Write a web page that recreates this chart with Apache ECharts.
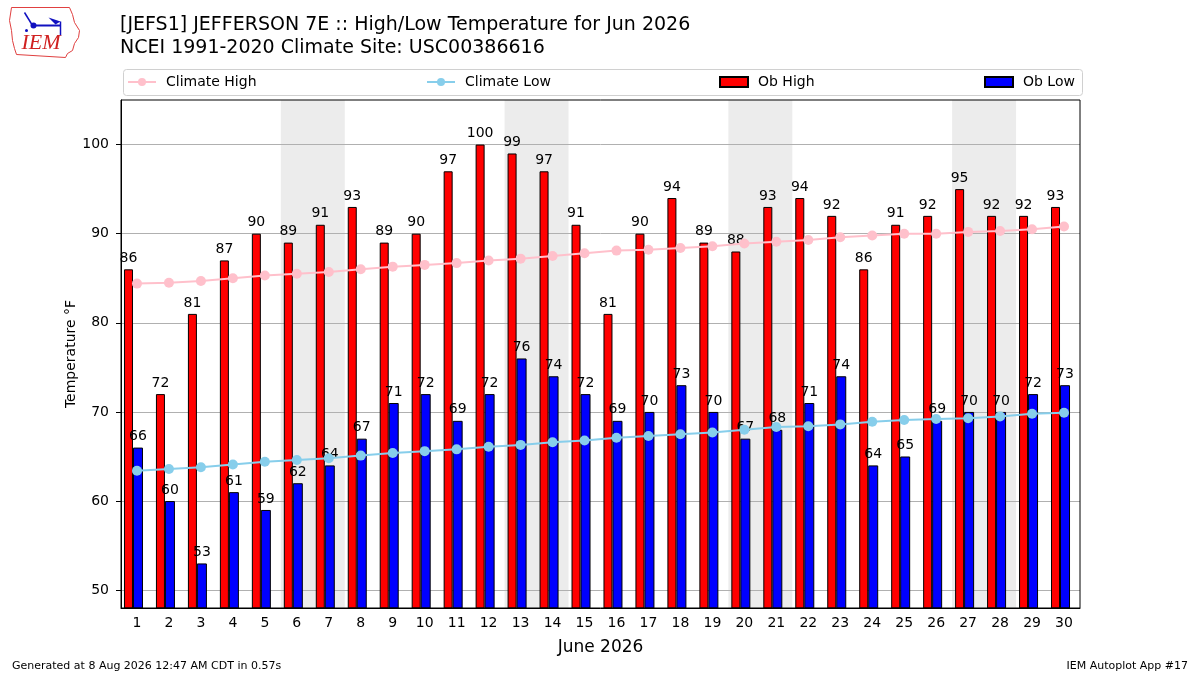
<!DOCTYPE html>
<html>
<head>
<meta charset="utf-8">
<script src="https://cdn.jsdelivr.net/npm/echarts@6/dist/echarts.min.js"></script>
<style>
  html, body { margin: 0; padding: 0; background: #fff; }
  #chart { width: 1200px; height: 675px; }
</style>
</head>
<body>
<div id="chart"></div>
<script>
// days of June 2026
const days = ['1','2','3','4','5','6','7','8','9','10','11','12','13','14','15',
  '16','17','18','19','20','21','22','23','24','25','26','27','28','29','30'];
const obHigh = [86,72,81,87,90,89,91,93,89,90,97,100,99,97,91,81,90,94,89,88,93,94,92,86,91,92,95,92,92,93];
const obLow = [66,60,53,61,59,62,64,67,71,72,69,72,76,74,72,69,70,73,70,67,68,71,74,64,65,69,70,70,72,73];
const climateHigh = [84.4,84.5,84.7,85.0,85.3,85.5,85.7,86.0,86.3,86.5,86.7,87.0,87.2,87.5,87.8,
  88.1,88.2,88.4,88.6,88.9,89.1,89.3,89.6,89.8,90.0,90.0,90.2,90.3,90.5,90.8];
const climateLow = [63.4,63.6,63.8,64.1,64.4,64.6,64.8,65.1,65.4,65.6,65.8,66.1,66.3,66.6,66.8,
  67.1,67.3,67.5,67.7,68.0,68.3,68.4,68.6,68.9,69.1,69.2,69.3,69.5,69.8,69.9];
const yTicks = [50,60,70,80,90,100];
// weekend pairs (Sat, Sun) as day numbers
const weekends = [[6,7],[13,14],[20,21],[27,28]];

const font = 'DejaVu Sans';
const chart = echarts.init(document.getElementById('chart'));

function legendAt(name, left, icon) {
  const lg = {
    data: [name], left: left, top: 70,
    itemWidth: 28, itemHeight: 10, itemGap: 0,
    textStyle: { fontFamily: font, fontSize: 14, color: '#000', padding: [0, 0, 0, 5] }
  };
  if (icon) lg.icon = icon;
  return lg;
}

const option = {
  animation: false,
  backgroundColor: '#fff',
  title: [
    { text: '[JEFS1] JEFFERSON 7E :: High/Low Temperature for Jun 2026',
      left: 115, top: 11, textStyle: { fontFamily: font, fontSize: 19, fontWeight: 'normal', color: '#000' } },
    { text: 'NCEI 1991-2020 Climate Site: USC00386616',
      left: 115, top: 34, textStyle: { fontFamily: font, fontSize: 19, fontWeight: 'normal', color: '#000' } },
    { text: 'Generated at 8 Aug 2026 12:47 AM CDT in 0.57s',
      left: 7, top: 656, textStyle: { fontFamily: font, fontSize: 11, fontWeight: 'normal', color: '#000' } },
    { text: 'IEM Autoplot App #17',
      right: 7, top: 656, textStyle: { fontFamily: font, fontSize: 11, fontWeight: 'normal', color: '#000' } }
  ],
  legend: [
    legendAt('Climate High', 122),
    legendAt('Climate Low', 421),
    legendAt('Ob High', 714, 'rect'),
    legendAt('Ob Low', 979, 'rect')
  ],
  graphic: [
    { type: 'rect', left: 121, top: 67, shape: { width: 959, height: 26, r: 3 },
      style: { fill: 'none', stroke: '#d0d0d0', lineWidth: 1 }, z: -1 },
    { type: 'group', left: 7, top: 5, children: [
      { type: 'polyline', shape: { points: [[3,2],[61,2],[64,9],[66,17],[71,25],[70,32],[66,38],[64,45],[59,48],[57,52],[8,49],[6,43],[4,35],[3,25],[1,15],[3,2]] },
        style: { stroke: '#e04040', fill: 'none', lineWidth: 1 } },
      { type: 'line', shape: { x1: 24, y1: 20, x2: 52, y2: 20 }, style: { stroke: '#1010c0', lineWidth: 2 } },
      { type: 'circle', shape: { cx: 25, cy: 20, r: 3 }, style: { fill: '#1010c0' } },
      { type: 'line', shape: { x1: 16, y1: 7, x2: 24, y2: 20 }, style: { stroke: '#1010c0', lineWidth: 1.5 } },
      { type: 'polygon', shape: { points: [[40,12],[52,16],[47,19]] }, style: { fill: '#1010c0' } },
      { type: 'line', shape: { x1: 52, y1: 16, x2: 52, y2: 30 }, style: { stroke: '#1010c0', lineWidth: 1.5 } },
      { type: 'circle', shape: { cx: 18, cy: 25, r: 1.5 }, style: { fill: '#1010c0' } },
      { type: 'text', left: 13, top: 27, style: { text: 'IEM', fill: '#d02020',
        font: 'italic 22px "Liberation Serif"' } }
    ]}
  ],
  grid: {
    left: 121, right: 120, top: 100, bottom: 67,
    show: true, borderColor: '#000', borderWidth: 1, backgroundColor: 'transparent', z: 5
  },
  xAxis: [
    {
      type: 'category', data: days, boundaryGap: true, z: 1.5,
      name: 'June 2026', nameLocation: 'middle', nameGap: 31,
      nameTextStyle: { fontFamily: font, fontSize: 17, color: '#000' },
      axisLine: { lineStyle: { color: '#000' } },
      axisTick: { alignWithLabel: true, length: 5, lineStyle: { color: '#000' } },
      axisLabel: { fontFamily: font, fontSize: 14, color: '#000', margin: 8, interval: 0 },
      splitLine: { show: false }
    },
    // hidden numeric twin of the day axis, used for the weekend bands
    { type: 'value', min: 0.5, max: 30.5, show: false }
  ],
  yAxis: {
    type: 'value', min: 48, max: 105, z: 1.5,
    name: 'Temperature °F', nameLocation: 'middle', nameGap: 43, nameMoveOverlap: false,
    nameTextStyle: { fontFamily: font, fontSize: 14, color: '#000' },
    axisLine: { show: true, lineStyle: { color: '#000' } },
    axisTick: { show: true, length: 5, customValues: yTicks, lineStyle: { color: '#000' } },
    axisLabel: { fontFamily: font, fontSize: 14, color: '#000', margin: 12, customValues: yTicks },
    splitLine: { show: true, lineStyle: { color: '#b0b0b0', width: 1 } }
  },
  series: [
    {
      name: 'Ob High', type: 'bar', data: obHigh, barWidth: 9, barGap: 0, z: 2,
      itemStyle: { color: '#ff0000', borderColor: '#000', borderWidth: 1 },
      label: { show: true, position: 'top', distance: 4, fontFamily: font, fontSize: 14, color: '#000' }
    },
    {
      name: 'Ob Low', type: 'bar', data: obLow, barWidth: 10, barGap: 0, z: 2,
      itemStyle: { color: '#0000ff', borderColor: '#000', borderWidth: 1 },
      label: { show: true, position: 'top', distance: 4, fontFamily: font, fontSize: 14, color: '#000' }
    },
    {
      // empty spacer so the bar pair sits left of the tick
      name: 'spacer', type: 'bar', data: days.map(() => '-'), barWidth: 7, barGap: 0, z: 1
    },
    {
      name: 'weekends', type: 'line', xAxisIndex: 1, data: [], z: 1,
      markArea: {
        silent: true, z: 1,
        itemStyle: { color: '#ececec' },
        data: weekends.map(w => [{ xAxis: w[0] - 0.5 }, { xAxis: w[1] + 0.5 }])
      }
    },
    {
      name: 'Climate High', type: 'line', data: climateHigh, z: 3,
      symbol: 'circle', symbolSize: 10,
      lineStyle: { color: '#ffc0cb', width: 2 }, itemStyle: { color: '#ffc0cb' }
    },
    {
      name: 'Climate Low', type: 'line', data: climateLow, z: 3,
      symbol: 'circle', symbolSize: 10,
      lineStyle: { color: '#87ceeb', width: 2 }, itemStyle: { color: '#87ceeb' }
    }
  ]
};

chart.setOption(option);
</script>
</body>
</html>
